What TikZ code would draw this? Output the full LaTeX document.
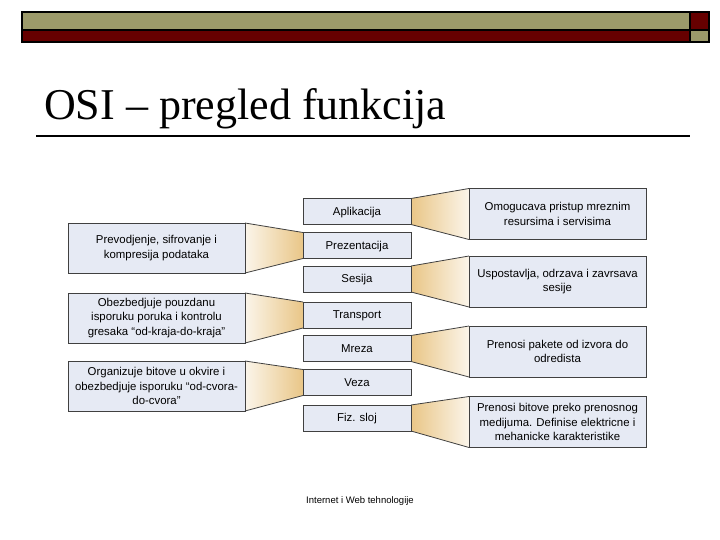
\documentclass[tikz,border=0pt]{standalone}
\usepackage{fontspec}
\setmainfont{Liberation Serif}
\setsansfont{Liberation Sans}
\usetikzlibrary{calc,backgrounds}

\definecolor{barolive}{HTML}{9C9A6A}
\definecolor{bardark}{HTML}{660000}
\definecolor{boxfill}{HTML}{E6EAF4}
\definecolor{boxline}{HTML}{404040}
\definecolor{funneltan}{HTML}{E9C687}
\definecolor{funnelcream}{HTML}{FBF5EA}

\tikzset{
  card/.style={draw=boxline, fill=boxfill, line width=0.8bp, inner sep=0pt, outer sep=0pt,
    font=\sffamily\fontsize{11.4bp}{14.5bp}\selectfont},
  layer/.style={card, minimum width=108bp, minimum height=26bp, text height=8.2bp, text depth=0.4bp},
  note/.style={card, minimum width=177bp, minimum height=51bp, align=center},
  funnel/.style={draw=boxline, line width=0.8bp}
}

\begin{document}
\begin{tikzpicture}[x=1bp,y=-1bp]
    \useasboundingbox (0,0) rectangle (720,540);

    % top bar
    \fill[barolive] (22,12) rectangle (690,30);
    \fill[bardark] (22,30) rectangle (690,42);
    \fill[bardark] (690,12) rectangle (709,30);
    \fill[barolive] (690,30) rectangle (709,42);
    \draw[line width=1.5bp] (22,12) rectangle (709,42);
    \draw[line width=1.5bp] (22,30) -- (709,30);
    \draw[line width=1.5bp] (690,12) -- (690,42);

    % title
    \node[anchor=base west, inner sep=0pt, font=\fontsize{44bp}{48bp}\selectfont] (title) at (44,120) {OSI -- pregled funkcija};
    \coordinate (rule_l) at (36,136);
    \coordinate (rule_r) at (690,136);
    \draw[line width=1.5bp] (rule_l) -- (rule_r);

    % layers
    \node[layer] (apl) at (357,211.5) {Aplikacija};
    \node[layer] (pre) at (357,245.5) {Prezentacija};
    \node[layer] (ses) at (357,279) {Sesija};
    \node[layer] (tra) at (357,315) {Transport};
    \node[layer] (mre) at (357,348.5) {Mreza};
    \node[layer] (vez) at (357,382.5) {Veza};
    \node[layer] (fiz) at (357,418) {Fiz. sloj};

    % right notes
    \node[note] (omog) at (557.5,214) {Omogucava pristup mreznim\\resursima i servisima};
    \node[note] (uspo) at (557.5,281.5) {Uspostavlja, odrzava i zavrsava\\sesije};
    \node[note] (pake) at (557.5,351.5) {Prenosi pakete od izvora do\\odredista};
    \node[note] (bito) at (557.5,422) {Prenosi bitove preko prenosnog\\medijuma. Definise elektricne i\\mehanicke karakteristike};

    % left notes
    \node[note, minimum height=50bp] (prev) at (156.5,248) {Prevodjenje, sifrovanje i\\kompresija podataka};
    \node[note, minimum height=50bp] (obez) at (156.5,318) {Obezbedjuje pouzdanu\\isporuku poruka i kontrolu\\gresaka ``od-kraja-do-kraja''};
    \node[note, minimum height=50bp] (orga) at (156.5,386) {Organizuje bitove u okvire i\\obezbedjuje isporuku ``od-cvora-\\do-cvora''};

    % funnels
    \begin{scope}[on background layer]
    \foreach \a/\b in {apl/omog,ses/uspo,mre/pake,fiz/bito}
        \shade[left color=funneltan, right color=funnelcream] (\a.north east) -- (\b.north west) -- (\b.south west) -- (\a.south east) -- cycle;
    \foreach \a/\b in {pre/prev,tra/obez,vez/orga}
        \shade[left color=funnelcream, right color=funneltan] (\a.north west) -- (\b.north east) -- (\b.south east) -- (\a.south west) -- cycle;
    \end{scope}
    \foreach \a/\b in {apl/omog,ses/uspo,mre/pake,fiz/bito}
        \draw[funnel] (\a.north east) -- (\b.north west) (\a.south east) -- (\b.south west);
    \foreach \a/\b in {pre/prev,tra/obez,vez/orga}
        \draw[funnel] (\a.north west) -- (\b.north east) (\a.south west) -- (\b.south east);

    % footer
    \node[font=\sffamily\fontsize{9.5bp}{11bp}\selectfont] (footer) at (360,501) {Internet i Web tehnologije};
\end{tikzpicture}
\end{document}
